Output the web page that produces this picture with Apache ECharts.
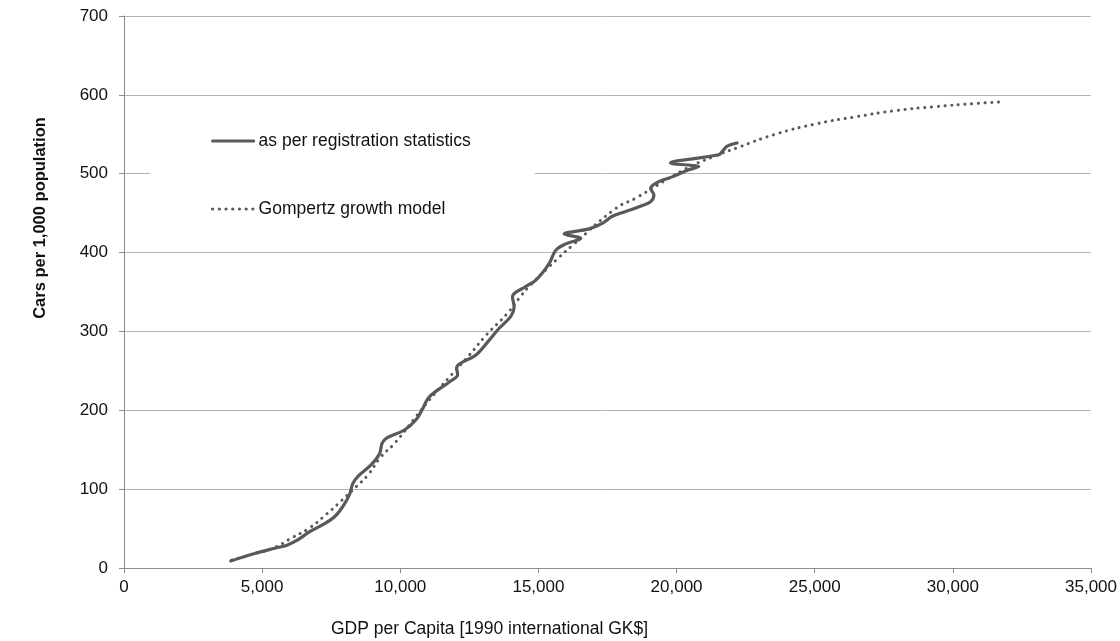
<!DOCTYPE html>
<html>
<head>
<meta charset="utf-8">
<script src="https://cdn.jsdelivr.net/npm/echarts@6/dist/echarts.min.js"></script>
<style>html,body{margin:0;padding:0;background:#fff}#c{width:1120px;height:641px}</style>
</head>
<body>
<div id="c"></div>
<script>
// GDP per capita [1990 int. GK$] vs cars per 1,000 population (registration statistics)
const registrationGDP = [3865,4700,5450,5900,6300,6720,7200,7620,7920,8160,8280,8460,8950,9250,9340,9490,10150,10570,10810,11050,11775,12076,12040,12200,12740,13220,13580,14000,14120,14060,14545,14906,15387,15628,15990,16530,15930,16830,17310,17675,18160,18640,19060,19180,19060,19360,19840,20440,20806,19780,21530,21650,21830,22190];
const registrationCars = [9,18,25,29,36,46,55,65,78,93,107,116,131,145,158,164.5,175,188,202,217,236,245,254,260,270,289,304,319,331,344,357,365,386,403,411,418,423.5,430,437,446,452,458,464.5,473,481.5,490,496,505,509,513.5,524,528,535,539];
// Gompertz growth model curve
const gompertzGDP = [3900,4600,5390,6060,6720,7320,7860,8400,8830,9300,9790,10570,11050,11775,12500,13100,13880,14300,14660,15750,16230,17800,18520,20320,21290,22200,23570,25020,26460,27910,29350,30800,31740];
const gompertzCars = [10,17,25,38,51,68,85,103,118,141,158,192,213,242,270,295,323,342,357,394,409,456,469,506,521,533,550,563,572,580,585,589,591];

const seriesNames = ['as per registration statistics','Gompertz growth model'];
const xTicks = {min:0, max:35000, interval:5000};
const yTicks = {min:0, max:700, interval:100};
const xTitle = 'GDP per Capita [1990 international GK$]';
const yTitle = 'Cars per 1,000 population';

const zip = (a,b) => a.map((v,i)=>[v,b[i]]);
const FONT = '"Liberation Sans", Arial, sans-serif';

const chart = echarts.init(document.getElementById('c'), null, {renderer:'canvas'});
chart.setOption({
  animation:false,
  backgroundColor:'#fff',
  grid:{left:124, right:27, top:16, bottom:73, containLabel:false},
  xAxis:{
    type:'value', min:xTicks.min, max:xTicks.max, interval:xTicks.interval,
    axisLine:{show:true, onZero:false, lineStyle:{color:'#8c8c8c', width:1}},
    axisTick:{show:true, length:5, inside:false, lineStyle:{color:'#8c8c8c'}},
    splitLine:{show:false},
    axisLabel:{color:'#111', fontFamily:FONT, fontSize:17, margin:11,
      formatter:v=>v.toLocaleString('en-US')}
  },
  yAxis:{
    type:'value', min:yTicks.min, max:yTicks.max, interval:yTicks.interval,
    axisLine:{show:true, lineStyle:{color:'#8c8c8c', width:1}},
    axisTick:{show:true, length:5, lineStyle:{color:'#8c8c8c'}},
    splitLine:{show:true, lineStyle:{color:'#b3b3b3', width:1}},
    axisLabel:{color:'#111', fontFamily:FONT, fontSize:17, margin:16}
  },
  legend:{
    orient:'vertical', left:150, top:111,
    backgroundColor:'#fff', padding:[20,64,20,61],
    itemWidth:41, itemHeight:20, itemGap:48,
    itemStyle:{opacity:0},
    lineStyle:{width:3.2},
    textStyle:{color:'#111', fontFamily:FONT, fontSize:17.5, lineHeight:20},
    data:seriesNames
  },
  graphic:[
    {
      type:'text', left:331, top:620,
      style:{text:xTitle, fill:'#111', font:'17.5px "Liberation Sans", Arial, sans-serif'}
    },
    {
      type:'text', x:40, y:218, rotation:Math.PI/2,
      style:{text:yTitle, fill:'#111', align:'center', verticalAlign:'middle',
        font:'bold 16.5px "Liberation Sans", Arial, sans-serif'}
    }
  ],
  series:[
    {
      name:seriesNames[0], type:'line', data:zip(registrationGDP, registrationCars),
      showSymbol:false, symbol:'none', smooth:0.35, z:3,
      lineStyle:{color:'#595959', width:3.2, cap:'round', join:'round'},
      itemStyle:{color:'#595959'}
    },
    {
      name:seriesNames[1], type:'line', data:zip(gompertzGDP, gompertzCars),
      showSymbol:false, symbol:'none', smooth:true, z:2,
      lineStyle:{color:'#595959', width:3, type:[0.1,6.6], cap:'round'},
      itemStyle:{color:'#595959'}
    }
  ]
});
</script>
</body>
</html>
